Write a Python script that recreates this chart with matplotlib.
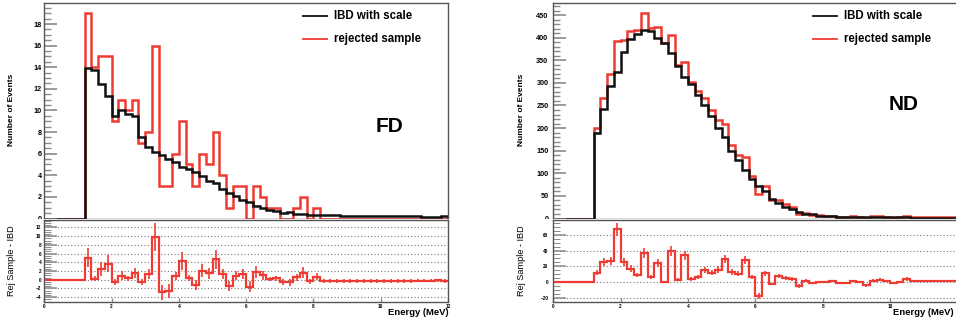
import numpy as np
import matplotlib
matplotlib.use("Agg")
import matplotlib.pyplot as plt
from matplotlib.patches import Rectangle
from matplotlib.ticker import MultipleLocator, FixedLocator

plt.rcParams["font.family"] = ["Liberation Sans", "DejaVu Sans"]
plt.rcParams["font.weight"] = "bold"

# 60 bins of 0.2 MeV from 0 to 12 MeV
bin_edges = np.round(np.linspace(0.0, 12.0, 61), 2)

# Far detector: scaled IBD prediction and rejected sample (events per bin)
fd_ibd = [0, 0, 0, 0, 0, 0,
          13.9, 13.75, 12.45, 11.3,
          9.5, 10.05, 9.7, 9.45, 7.5,
          6.65, 6.2, 5.85, 5.5, 5.2,
          4.8, 4.6, 4.3, 3.9, 3.5,
          3.3, 2.75, 2.35, 2.05, 1.75,
          1.55, 1.2, 0.95, 0.8, 0.65,
          0.5, 0.6, 0.4, 0.38, 0.35,
          0.33, 0.3, 0.3, 0.28, 0.27,
          0.26, 0.25, 0.25, 0.24, 0.23,
          0.22, 0.22, 0.21, 0.2, 0.2,
          0.19, 0.18, 0.18, 0.1, 0.2]
fd_rej = [0, 0, 0, 0, 0, 0,
          19, 14, 15, 15,
          9, 11, 10, 11, 7,
          8, 16, 3, 3, 6,
          9, 5, 3, 6, 5,
          8, 4, 1, 3, 3,
          0, 3, 2, 1, 1,
          0, 0, 1, 2, 0,
          1, 0, 0, 0, 0,
          0, 0, 0, 0, 0,
          0, 0, 0, 0, 0,
          0, 0, 0, 0, 0]

# Near detector
nd_ibd = [0, 0, 0, 0, 0, 0,
          189, 242, 293, 325,
          368, 398, 409, 418, 415,
          399, 388, 367, 337, 313,
          298, 274, 251, 227, 201,
          181, 150, 129.5, 107, 87,
          72.5, 60, 43, 34, 26,
          21.5, 14, 11, 9, 6.5,
          5.0, 4.6, 4.2, 3.9, 3.6,
          3.4, 3.8, 3.0, 2.9, 2.7,
          2.6, 2.4, 2.3, 2.2, 2.1,
          2.0, 1.9, 1.8, 1.7, 1.6]
nd_rej = [0, 0, 0, 0, 0, 0,
          201, 267, 320, 392,
          394, 415, 418, 455, 421,
          423, 388, 406, 340, 347,
          302, 281, 266, 239, 217,
          210, 163, 140, 135, 94,
          55, 71, 41, 42, 31.5,
          25.5, 9, 13, 8, 7,
          5.5, 6.3, 3.8, 3.5, 4.6,
          3.9, 0, 5.0, 5.9, 3.7,
          1.6, 2.9, 6.3, 3.9, 3.1,
          3.0, 2.9, 2.8, 3.2, 2.6]

fd_energy_ticks = [0, 2, 4, 6, 8, 10, 12]
nd_energy_ticks = [0, 2, 4, 6, 8, 10]

RED = "#ee3b33"
BLACK = "#111111"
SPINE = "#555555"
TICK = "#8a8a8a"

W, H = 956, 325
fig = plt.figure(figsize=(W / 100, H / 100), dpi=100)


def fig_rect(x0, x1, ytop, ybot):
    return [x0 / W, 1 - ybot / H, (x1 - x0) / W, (ybot - ytop) / H]


def style_axes(ax):
    for s in ax.spines.values():
        s.set_color(SPINE)
        s.set_linewidth(1.0)


def draw_detector(x0, x1, top_max, top_major, top_minor, res_lim, res_major,
                  res_minor, ibd, rej, tag, tag_xy, label_pad, leg_x, xticks):
    ax = fig.add_axes(fig_rect(x0, x1, 3, 218.5), zorder=0)
    axr = fig.add_axes(fig_rect(x0, x1, 220, 302), zorder=1)
    for a in (ax, axr):
        style_axes(a)
        a.set_xlim(0, 12)

    ibd = np.asarray(ibd, dtype=float)
    rej = np.asarray(rej, dtype=float)

    # spectra
    ax.stairs(rej, bin_edges, baseline=0, color=RED, lw=1.8)
    ax.stairs(ibd, bin_edges, baseline=0, color=BLACK, lw=1.8)
    ax.set_ylim(0, top_max)
    ax.yaxis.set_major_locator(MultipleLocator(top_major))
    ax.yaxis.set_minor_locator(MultipleLocator(top_minor))
    ax.tick_params(axis="x", which="both", bottom=False, labelbottom=False)
    ax.tick_params(axis="y", which="major", direction="in", length=9.5,
                   width=1.2, color=TICK, labelsize=5.2, pad=label_pad)
    ax.tick_params(axis="y", which="minor", direction="in", length=5,
                   width=1.0, color=TICK)

    # legend
    for yy, col, txt in ((0.940, BLACK, "IBD with scale"),
                         (0.831, RED, "rejected sample")):
        ax.plot([leg_x, leg_x + 0.061], [yy, yy], transform=ax.transAxes,
                color=col, lw=1.3, clip_on=False)
        ax.text(leg_x + 0.077, yy, txt, transform=ax.transAxes, va="center",
                ha="left", fontsize=8.3, fontweight="bold")
    ax.text(tag_xy[0], tag_xy[1], tag, transform=ax.transAxes, ha="center",
            va="center", fontsize=15, fontweight="bold")

    # difference histogram, bin errors as sqrt(|content|)
    diff = rej - ibd
    err = np.sqrt(np.abs(diff))
    centers = 0.5 * (bin_edges[:-1] + bin_edges[1:])
    axr.stairs(diff, bin_edges, baseline=None, color=RED, lw=1.6)
    axr.errorbar(centers, diff, yerr=err, fmt="none", ecolor=RED,
                 elinewidth=1.2, capsize=0)
    axr.set_ylim(*res_lim)
    axr.yaxis.set_major_locator(MultipleLocator(res_major))
    axr.yaxis.set_minor_locator(MultipleLocator(res_minor))
    axr.xaxis.set_major_locator(FixedLocator(xticks))
    axr.yaxis.grid(True, which="major", linestyle=(0, (1, 2)),
                   color="#777777", lw=0.8)
    axr.set_axisbelow(True)
    axr.tick_params(axis="y", which="major", direction="in", length=9.5,
                    width=1.1, color=TICK, labelsize=3.4, pad=label_pad)
    axr.tick_params(axis="y", which="minor", direction="in", length=5,
                    width=0.7, color=TICK)
    axr.tick_params(axis="x", which="major", direction="in", length=3,
                    width=1.0, color=TICK, labelsize=3.4, pad=1.5)
    return ax, axr


draw_detector(44.3, 448.0, 19.95, 2, 0.5, (-5.1, 13.7), 2, 0.5,
              fd_ibd, fd_rej, "FD", (0.854, 0.429), 2.0, 0.640,
              fd_energy_ticks)
draw_detector(553.3, 957.3, 476.7, 50, 10, (-25, 78.5), 20, 5,
              nd_ibd, nd_rej, "ND", (0.866, 0.530), 3.5, 0.642,
              nd_energy_ticks)

# lower pads sit over the bottom of the upper pads
fig.patches.append(Rectangle((0, 0), 1, 1 - 219.3 / H, transform=fig.transFigure,
                             facecolor="white", edgecolor="none", zorder=0.5))

for xc in (12.0, 521.5):
    fig.text(xc / W, 1 - 110 / H, "Number of Events", rotation=90,
             ha="center", va="center", fontsize=6.0, fontweight="bold")
    fig.text(xc / W, 1 - 260.5 / H, "Rej Sample - IBD", rotation=90,
             ha="center", va="center", fontsize=6.6, fontweight="normal")
for xr in (449.0, 954.0):
    fig.text(xr / W, 1 - 308 / H, "Energy (MeV)", ha="right", va="top",
             fontsize=6.8, fontweight="bold")

fig.savefig("out.png", dpi=100)
